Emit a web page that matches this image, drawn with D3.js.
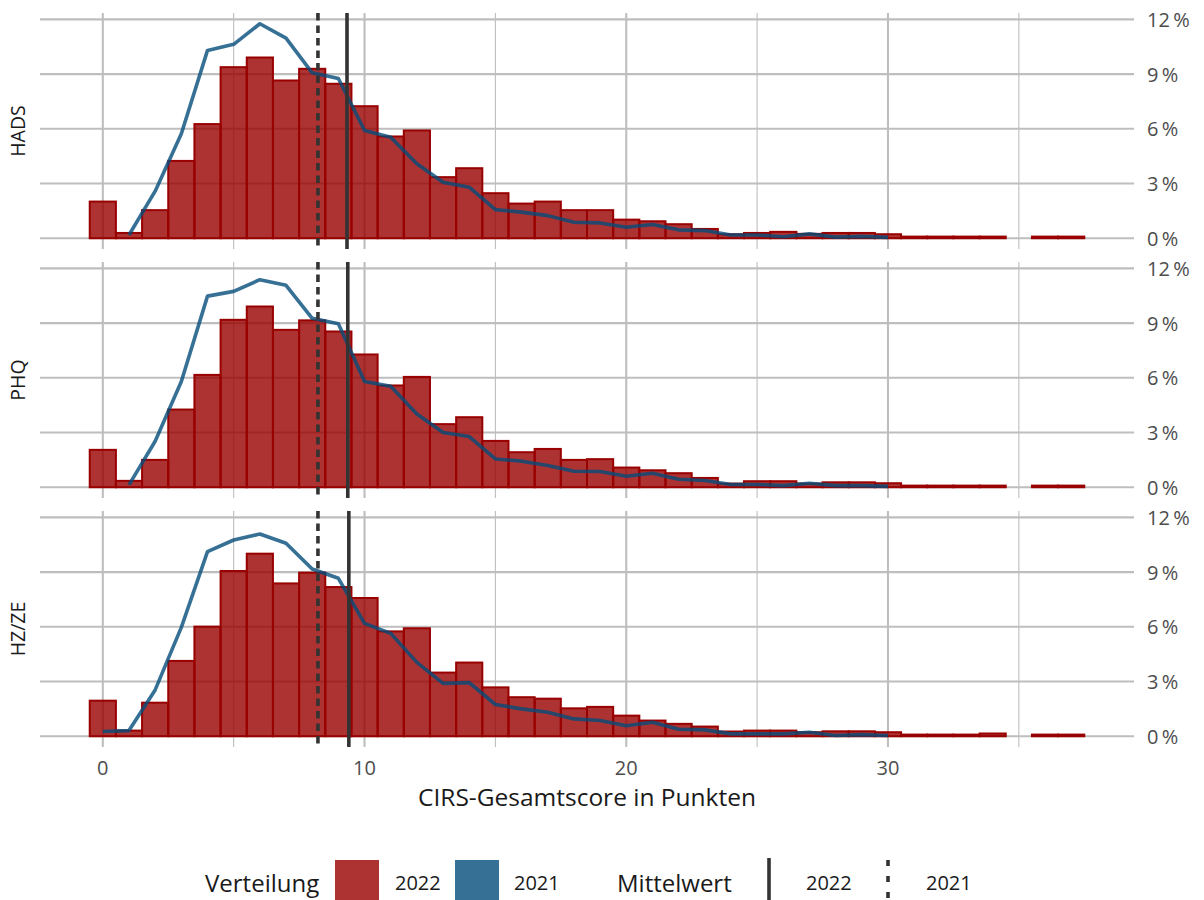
<!DOCTYPE html>
<html>
<head>
<meta charset="utf-8">
<script src="https://cdn.jsdelivr.net/npm/d3@7"></script>
<style>
  html, body { margin: 0; padding: 0; background: #fff; }
  svg { display: block; font-family: "Open Sans", "Noto Sans", sans-serif; }
</style>
</head>
<body>
<svg id="chart" width="1204" height="900"></svg>
<script>
// ---------------- data ----------------
const facets = ["HADS", "PHQ", "HZ/ZE"];

// score bins (x) for the 2022 histogram
const bins2022 = [0,1,2,3,4,5,6,7,8,9,10,11,12,13,14,15,16,17,18,19,20,21,22,23,24,25,26,27,28,29,30,31,32,33,34,35,36,37];

// share in % per bin, 2022 (null = no bar)
const hist2022_HADS = [2.01,0.29,1.54,4.24,6.26,9.38,9.91,8.65,9.29,8.47,7.24,5.58,5.91,3.35,3.84,2.47,1.90,2.01,1.54,1.54,1.02,0.93,0.77,0.51,0.22,0.29,0.35,0.24,0.29,0.29,0.22,0.09,0.09,0.09,0.09,null,0.09,0.09];
const hist2022_PHQ  = [2.05,0.35,1.50,4.26,6.16,9.18,9.91,8.63,9.15,8.54,7.28,5.58,6.05,3.46,3.84,2.54,1.92,2.10,1.50,1.54,1.08,0.93,0.77,0.51,0.20,0.33,0.33,0.20,0.27,0.27,0.22,0.09,0.09,0.09,0.09,null,0.09,0.09];
const hist2022_HZZE = [1.95,0.31,1.84,4.13,6.01,9.06,10.01,8.38,8.97,8.18,7.58,5.75,5.92,3.49,4.04,2.68,2.14,2.06,1.53,1.61,1.13,0.86,0.68,0.53,0.26,0.31,0.31,0.22,0.27,0.27,0.22,0.09,0.09,0.09,0.15,null,0.09,0.09];

// 2021 distribution line (x and share in %)
const line2021_HADS_x = [1,2,3,4,5,6,7,8,9,10,11,12,13,14,15,16,17,18,19,20,21,22,23,24,25,26,27,28,29,30];
const line2021_HADS   = [0.18,2.58,5.73,10.30,10.63,11.76,10.97,9.07,8.76,5.91,5.54,4.08,3.07,2.80,1.57,1.43,1.24,0.88,0.84,0.60,0.75,0.46,0.42,0.18,0.18,0.08,0.24,0.06,0.10,0.05];
const line2021_PHQ_x  = [1,2,3,4,5,6,7,8,9,10,11,12,13,14,15,16,17,18,19,20,21,22,23,24,25,26,27,28,29,30];
const line2021_PHQ    = [0.13,2.52,5.80,10.48,10.74,11.38,11.07,9.26,8.96,5.80,5.54,4.02,3.00,2.78,1.55,1.43,1.19,0.88,0.86,0.60,0.77,0.44,0.37,0.15,0.15,0.09,0.22,0.09,0.09,0.05];
const line2021_HZZE_x = [0,1,2,3,4,5,6,7,8,9,10,11,12,13,14,15,16,17,18,19,20,21,22,23,24,25,26,27,28,29,30];
const line2021_HZZE   = [0.26,0.31,2.54,5.97,10.12,10.76,11.09,10.58,9.17,8.66,6.19,5.64,4.05,2.90,2.94,1.74,1.50,1.32,0.95,0.86,0.58,0.77,0.38,0.35,0.13,0.13,0.13,0.22,0.04,0.09,0.04];

// means
const mean2022 = [9.33, 9.36, 9.40];
const mean2021 = [8.22, 8.22, 8.22];

// axis ticks
const xTicksMajor = [0, 10, 20, 30];
const xTicksMinor = [5, 15, 25, 35];
const yTicks = [0, 3, 6, 9, 12];

const xTitle = "CIRS-Gesamtscore in Punkten";
const legendTitle1 = "Verteilung";
const legendTitle2 = "Mittelwert";
const years = ["2022", "2021"];

// ---------------- drawing ----------------
const histByFacet = [hist2022_HADS, hist2022_PHQ, hist2022_HZZE];
const lineByFacet = [
  line2021_HADS_x.map((x, i) => [x, line2021_HADS[i]]),
  line2021_PHQ_x.map((x, i) => [x, line2021_PHQ[i]]),
  line2021_HZZE_x.map((x, i) => [x, line2021_HZZE[i]])
];

const svg = d3.select("#chart");
svg.append("rect").attr("width", 1204).attr("height", 900).attr("fill", "#fff");

const left = 40, right = 1134;
const panelTop0 = 13, panelH = 236, panelStep = 249;

const x = d3.scaleLinear().domain([-2.4, 39.4]).range([left, right]);

const gridCol = "#BEBEBE";
const barCol = "#990000";
const blueCol = "#044C79";
const meanCol = "#333333";
const textCol = "#4D4D4D";

facets.forEach((name, i) => {
  const top = panelTop0 + i * panelStep;
  const y = d3.scaleLinear().domain([-0.59, 12.35]).range([top + panelH, top]);
  const g = svg.append("g");

  const clipId = "clip" + i;
  svg.append("clipPath").attr("id", clipId)
    .append("rect").attr("x", left).attr("y", top).attr("width", right - left).attr("height", panelH);

  g.selectAll(".vmin").data(xTicksMinor).join("line")
    .attr("x1", d => x(d)).attr("x2", d => x(d))
    .attr("y1", top).attr("y2", top + panelH)
    .attr("stroke", gridCol).attr("stroke-width", 1.1);
  g.selectAll(".vmaj").data(xTicksMajor).join("line")
    .attr("x1", d => x(d)).attr("x2", d => x(d))
    .attr("y1", top).attr("y2", top + panelH)
    .attr("stroke", gridCol).attr("stroke-width", 2.1);
  g.selectAll(".h").data(yTicks).join("line")
    .attr("x1", left).attr("x2", right)
    .attr("y1", d => y(d)).attr("y2", d => y(d))
    .attr("stroke", gridCol).attr("stroke-width", 2.1);

  const pg = g.append("g").attr("clip-path", `url(#${clipId})`);

  const bars = bins2022.map((b, k) => ({ b, v: histByFacet[i][k] })).filter(d => d.v != null);
  pg.selectAll("rect.bar").data(bars).join("rect")
    .attr("class", "bar")
    .attr("x", d => x(d.b - 0.5))
    .attr("width", d => x(d.b + 0.5) - x(d.b - 0.5))
    .attr("y", d => y(d.v))
    .attr("height", d => y(0) - y(d.v))
    .attr("fill", barCol).attr("fill-opacity", 0.8)
    .attr("stroke", barCol).attr("stroke-width", 2);

  pg.append("path").datum(lineByFacet[i])
    .attr("d", d3.line().x(d => x(d[0])).y(d => y(d[1])))
    .attr("fill", "none").attr("stroke", blueCol).attr("stroke-opacity", 0.8)
    .attr("stroke-width", 3.6).attr("stroke-linejoin", "round");

  pg.append("line")
    .attr("x1", x(mean2021[i])).attr("x2", x(mean2021[i]))
    .attr("y1", top).attr("y2", top + panelH)
    .attr("stroke", meanCol).attr("stroke-width", 3.6).attr("stroke-dasharray", "7.5,5");
  pg.append("line")
    .attr("x1", x(mean2022[i])).attr("x2", x(mean2022[i]))
    .attr("y1", top).attr("y2", top + panelH)
    .attr("stroke", meanCol).attr("stroke-width", 3.6);

  g.selectAll("text.yl").data(yTicks).join("text")
    .attr("class", "yl")
    .attr("x", 1147).attr("y", d => y(d))
    .attr("dominant-baseline", "central")
    .attr("font-size", 20).attr("fill", textCol)
    .text(d => d + "\u2009%");

  svg.append("text")
    .attr("transform", `translate(25,${top + panelH / 2}) rotate(-90)`)
    .attr("text-anchor", "middle")
    .attr("font-size", 19.5).attr("fill", "#1A1A1A")
    .text(name);

  if (i === facets.length - 1) {
    g.selectAll("text.xl").data(xTicksMajor).join("text")
      .attr("class", "xl")
      .attr("x", d => x(d)).attr("y", top + panelH + 20)
      .attr("text-anchor", "middle").attr("dominant-baseline", "central")
      .attr("font-size", 20).attr("fill", textCol)
      .text(d => d);
  }
});

svg.append("text")
  .attr("x", (left + right) / 2).attr("y", 796)
  .attr("text-anchor", "middle").attr("dominant-baseline", "central")
  .attr("font-size", 24.5).attr("fill", "#1A1A1A")
  .text(xTitle);

const ly = 882;
const leg = svg.append("g");
leg.append("text").attr("x", 205).attr("y", ly).attr("dominant-baseline", "central")
  .attr("font-size", 24).attr("fill", "#1A1A1A").text(legendTitle1);
leg.append("rect").attr("x", 335).attr("y", ly - 22).attr("width", 44).attr("height", 44)
  .attr("fill", barCol).attr("fill-opacity", 0.8);
leg.append("text").attr("x", 395).attr("y", ly).attr("dominant-baseline", "central")
  .attr("font-size", 20).attr("fill", "#1A1A1A").text(years[0]);
leg.append("rect").attr("x", 455).attr("y", ly - 22).attr("width", 44).attr("height", 44)
  .attr("fill", blueCol).attr("fill-opacity", 0.8);
leg.append("text").attr("x", 514).attr("y", ly).attr("dominant-baseline", "central")
  .attr("font-size", 20).attr("fill", "#1A1A1A").text(years[1]);

leg.append("text").attr("x", 617).attr("y", ly).attr("dominant-baseline", "central")
  .attr("font-size", 24).attr("fill", "#1A1A1A").text(legendTitle2);
leg.append("line").attr("x1", 769).attr("x2", 769).attr("y1", ly - 24).attr("y2", ly + 24)
  .attr("stroke", meanCol).attr("stroke-width", 3.6);
leg.append("text").attr("x", 806).attr("y", ly).attr("dominant-baseline", "central")
  .attr("font-size", 20).attr("fill", "#1A1A1A").text(years[0]);
leg.append("line").attr("x1", 888).attr("x2", 888).attr("y1", ly - 22).attr("y2", ly + 24)
  .attr("stroke", meanCol).attr("stroke-width", 3.6).attr("stroke-dasharray", "6,10");
leg.append("text").attr("x", 926).attr("y", ly).attr("dominant-baseline", "central")
  .attr("font-size", 20).attr("fill", "#1A1A1A").text(years[1]);
</script>
</body>
</html>
